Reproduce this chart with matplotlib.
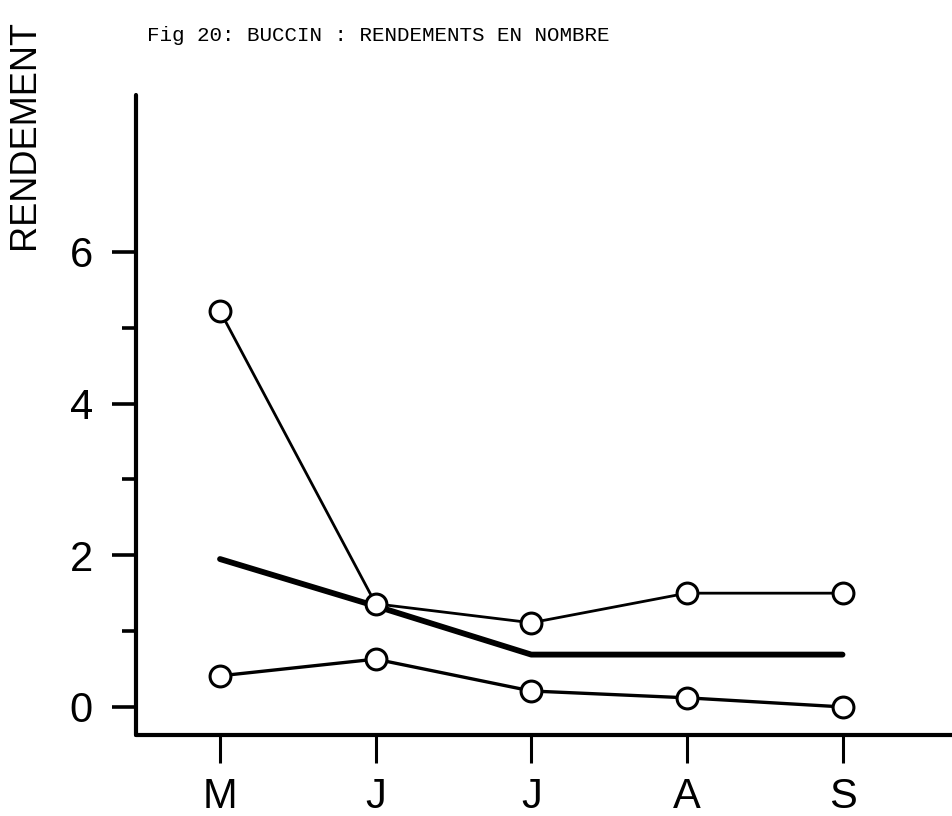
import matplotlib
matplotlib.use("Agg")
import matplotlib.pyplot as plt
from matplotlib.ticker import FixedLocator

# Months (mai -> septembre)
months = ["M", "J", "J", "A", "S"]

# Rendements en nombre
rend_haut = [5.22, 1.36, 1.11, 1.50, 1.50]   # cercles, courbe haute
rend_bas = [0.41, 0.63, 0.21, 0.12, 0.00]    # cercles, courbe basse
rend_moy = [1.95, 1.33, 0.69, 0.69, 0.69]    # trait epais sans symbole

y_major = [0, 2, 4, 6]
y_minor = [1, 3, 5]

plt.rcParams["font.family"] = ["Liberation Sans", "DejaVu Sans"]

fig = plt.figure(figsize=(9.53, 8.16), dpi=100)
ax = fig.add_axes([0.1427, 0.0993, 0.8573, 0.7843])

x = list(range(len(months)))

ax.plot(x, rend_moy, color="black", linewidth=4.2, solid_capstyle="round", zorder=2)
ax.plot(x, rend_haut, color="black", linewidth=2.0, marker="o", markersize=15,
        markerfacecolor="white", markeredgecolor="black", markeredgewidth=2.2, zorder=3)
ax.plot(x, rend_bas, color="black", linewidth=2.4, marker="o", markersize=15,
        markerfacecolor="white", markeredgecolor="black", markeredgewidth=2.2, zorder=3)

ax.set_xlim(-0.54, 4.71)
ax.set_ylim(-0.37, 8.07)

ax.set_xticks(x)
ax.set_xticklabels(months)
ax.set_yticks(y_major)
ax.yaxis.set_minor_locator(FixedLocator(y_minor))

for side in ["top", "right"]:
    ax.spines[side].set_visible(False)
for side in ["left", "bottom"]:
    ax.spines[side].set_linewidth(3)
    ax.spines[side].set_capstyle("round")

ax.tick_params(axis="x", which="major", direction="out", length=20, width=2.2,
               pad=10, labelsize=30)
ax.tick_params(axis="y", which="major", direction="out", length=17, width=2.6,
               pad=14, labelsize=30)
ax.tick_params(axis="y", which="minor", direction="out", length=10, width=2.6)

fig.text(0.026, 0.835, "RENDEMENT", rotation=90, ha="center", va="center",
         fontsize=26)
fig.text(0.154, 0.957, "Fig 20: BUCCIN : RENDEMENTS EN NOMBRE", ha="left",
         va="center", fontsize=15, family="Liberation Mono")

fig.savefig("out.png", dpi=100)
